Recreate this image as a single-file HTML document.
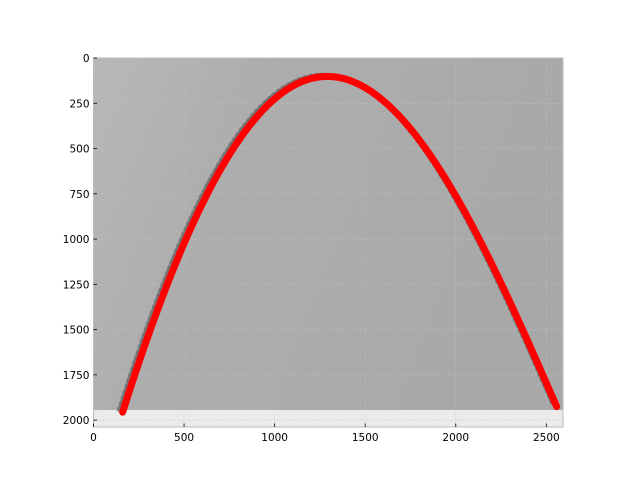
<!DOCTYPE html>
<html><head><meta charset="utf-8"><style>
html,body{margin:0;padding:0;background:#fff;width:640px;height:480px;overflow:hidden}
text{font-family:"DejaVu Sans","Liberation Sans",sans-serif;font-size:10.5px;fill:#000}
</style></head><body>
<svg width="640" height="480" xmlns="http://www.w3.org/2000/svg">
<defs>
<linearGradient id="bg" x1="0" x2="1" y1="0" y2="0.3">
<stop offset="0" stop-color="#b8b8b8"/><stop offset="0.35" stop-color="#adadad"/><stop offset="0.7" stop-color="#ababab"/><stop offset="1" stop-color="#a8a8a8"/>
</linearGradient>
</defs>
<g id="plot"></g>
</svg>
<script>
const xs = [161,312,496,680,864,1048,1287,1434,1582,1710,1840,1950,2060,2244,2428,2557];
const ys = [1934,1539,1042,637,361,186,94,140,223,342,526,692,860,1208,1631,1935];
const xTicks = [0,500,1000,1500,2000,2500];
const yTicks = [0,250,500,750,1000,1250,1500,1750,2000];
const imgW = 2592, imgH = 1944;
const L=93.5, T=58, R=563, B=427, xMax=2592, yMax=2038;
const sx = v => L + v/xMax*(R-L);
const sy = v => T + v/yMax*(B-T);
const NS="http://www.w3.org/2000/svg";
const g=document.getElementById('plot');
function mk(tag,attrs,parent){const e=document.createElementNS(NS,tag);for(const k in attrs)e.setAttribute(k,attrs[k]);(parent||g).appendChild(e);return e;}
// least-squares polynomial through the read points (smooths reading noise)
function polyfit(X,Y,deg){
  const n=deg+1, A=[], b=[];
  for(let i=0;i<n;i++){A.push(new Array(n).fill(0));b.push(0);}
  X.forEach((x,k)=>{for(let i=0;i<n;i++){b[i]+=Y[k]*Math.pow(x,i);for(let j=0;j<n;j++)A[i][j]+=Math.pow(x,i+j);}});
  for(let c=0;c<n;c++){let p=c;for(let r=c+1;r<n;r++)if(Math.abs(A[r][c])>Math.abs(A[p][c]))p=r;
    [A[c],A[p]]=[A[p],A[c]];[b[c],b[p]]=[b[p],b[c]];
    for(let r=0;r<n;r++){if(r===c)continue;const f=A[r][c]/A[c][c];for(let j=c;j<n;j++)A[r][j]-=f*A[c][j];b[r]-=f*b[c];}}
  return b.map((v,i)=>v/A[i][i]);
}
const x0=xs[0], x1=xs[xs.length-1], span=(x1-x0)/2, mid=(x0+x1)/2;
const coef=polyfit(xs.map(v=>(v-mid)/span),ys,4);
const f=u=>coef.reduce((s,c,i)=>s+c*Math.pow(u,i),0);
let d='';
for(let k=0;k<=200;k++){const x=x0+(x1-x0)*k/200;const u=(x-mid)/span;d+=(k?' L':'M')+sx(x).toFixed(2)+','+sy(f(u)).toFixed(2);}
const face=mk('rect',{x:L,y:T,width:R-L,height:B-T,fill:'#ebebeb'});


const img=mk('rect',{x:L,y:T,width:sx(imgW)-L,height:sy(imgH)-T,fill:'url(#bg)'});


xTicks.forEach(v=>{const l=mk('line',{x1:sx(v),x2:sx(v),y1:T,y2:B,stroke:'#c4c4c4','stroke-width':0.5,'stroke-dasharray':'1.5,1.5'});

});
yTicks.forEach(v=>{const l=mk('line',{x1:L,x2:R,y1:sy(v),y2:sy(v),stroke:'#c4c4c4','stroke-width':0.5,'stroke-dasharray':'1.5,1.5'});

});
const shadow=mk('path',{d:d,fill:'none',stroke:'#3a3a3a','stroke-width':3.5,'stroke-dasharray':'2.5,3.5','stroke-linecap':'round',opacity:0.5,transform:'translate(-4,-2)'});


const line=mk('path',{d:d,fill:'none',stroke:'#ff0000','stroke-width':7,'stroke-linecap':'round','stroke-linejoin':'round'});


const frame=mk('rect',{x:L,y:T,width:R-L,height:B-T,fill:'none',stroke:'#bbbbbb','stroke-width':1});


xTicks.forEach(v=>{const t=mk('line',{x1:sx(v),x2:sx(v),y1:B,y2:B-3.5,stroke:'#000','stroke-width':0.8});


const tx=mk('text',{x:sx(v),y:B+14,'text-anchor':'middle'});tx.textContent=v;

});
yTicks.forEach(v=>{const t=mk('line',{x1:L,x2:L+3.5,y1:sy(v),y2:sy(v),stroke:'#000','stroke-width':0.8});


const tx=mk('text',{x:L-4,y:sy(v)+4,'text-anchor':'end'});tx.textContent=v;

});
</script>
</body></html>
